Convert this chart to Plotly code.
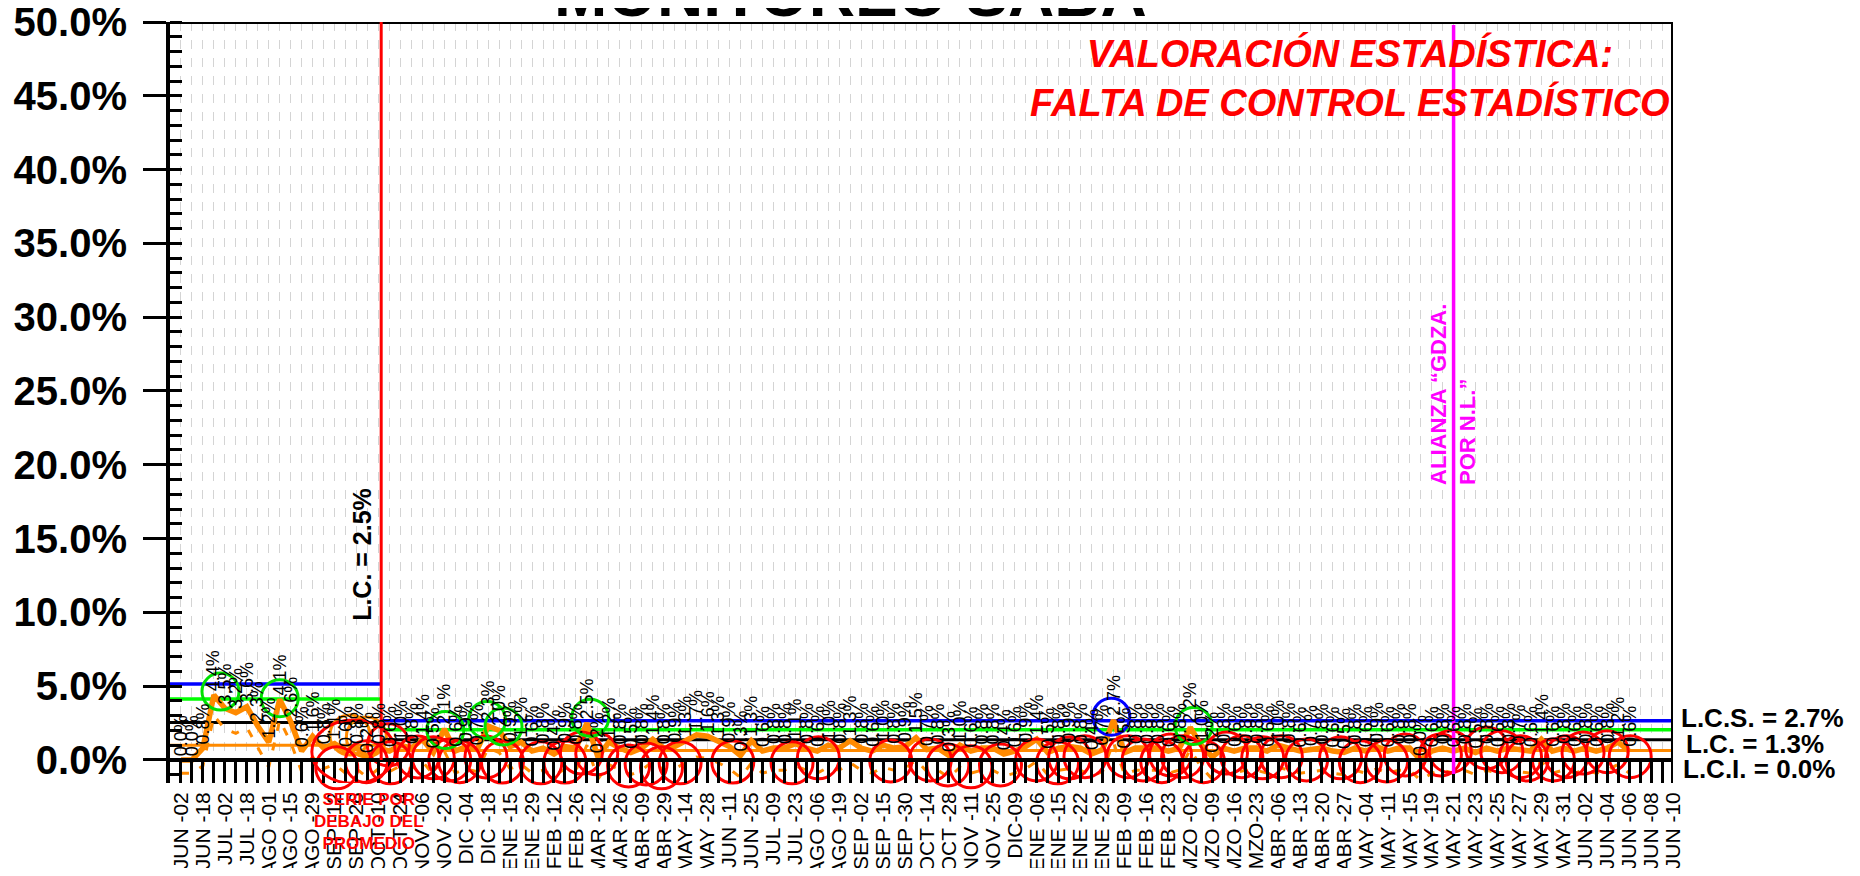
import plotly.graph_objects as go

# ---------------- DATA ----------------
cat_labels = ["JUN -02", "JUN -18", "JUL -02", "JUL -18", "AGO -01", "AGO -15", "AGO -29",
              "SEP -12", "SEP -26", "OCT -10", "OCT -24", "NOV -06", "NOV -20", "DIC -04",
              "DIC -18", "ENE -15", "ENE -29", "FEB -12", "FEB -26", "MAR -12", "MAR -26",
              "ABR -09", "ABR -29", "MAY -14", "MAY -28", "JUN -11", "JUN -25", "JUL -09",
              "JUL -23", "AGO -06", "AGO -19", "SEP -02", "SEP -15", "SEP -30", "OCT -14",
              "OCT -28", "NOV -11", "NOV -25", "DIC-09", "ENE -06", "ENE -15", "ENE -22",
              "ENE -29", "FEB -09", "FEB -16", "FEB -23", "MZO -02", "MZO -09", "MZO -16",
              "MZO-23", "ABR -06", "ABR -13", "ABR -20", "ABR -27", "MAY -04", "MAY -11",
              "MAY -15", "MAY -19", "MAY -21", "MAY -23", "MAY -25", "MAY -27", "MAY -29",
              "MAY -31", "JUN -02", "JUN -04", "JUN -06", "JUN -08", "JUN -10"]

n_positions = 138  # category slots on the axis (labels every second slot)

main_values = [0.0, 0.0, 0.8, 4.4, 3.5, 3.2, 3.6, 2.3, 1.2, 4.1,
               2.6, 0.6, 1.6, 0.8, 1.1, 0.6, 0.8, 0.2, 0.8, 0.6,
               1.0, 0.8, 1.4, 0.5, 2.1, 0.6, 0.9, 0.7, 2.3, 2.0,
               0.9, 1.2, 0.6, 0.8, 0.4, 0.9, 0.8, 2.5, 0.2, 1.2,
               0.8, 0.5, 0.8, 1.4, 0.8, 0.9, 1.3, 1.7, 1.6, 1.3,
               0.9, 0.3, 1.3, 0.6, 0.8, 0.8, 1.1, 0.8, 0.6, 1.0,
               0.8, 1.3, 0.8, 0.6, 1.0, 0.8, 0.9, 1.5, 0.7, 0.8,
               0.3, 1.0, 0.6, 0.8, 0.8, 0.4, 0.6, 0.9, 1.4, 0.5,
               0.8, 0.9, 0.8, 0.4, 0.7, 2.7, 0.5, 0.8, 0.8, 0.8,
               0.6, 0.8, 2.2, 1.0, 0.2, 0.8, 0.6, 0.8, 0.8, 0.6,
               1.0, 0.8, 0.6, 0.7, 0.8, 0.6, 0.5, 0.8, 0.6, 0.9,
               0.6, 0.8, 0.8, 0.0, 0.6, 0.8, 0.6, 0.8, 0.5, 0.8,
               0.6, 0.8, 0.7, 0.6, 1.4, 0.6, 0.8, 0.6, 0.8, 0.6,
               0.8, 1.2, 0.6]
main_start = 1

dash_values = [-0.9, -0.9, -0.4, 3.0, 2.1, 1.8, 2.2, 0.9, -0.5, 2.7,
               1.2, -0.8, 0.2, -0.6, -0.3, -0.9, -0.6, -1.2, -0.6, -0.8,
               -0.4, -0.6, -0.1, -1.0, 0.6, -0.9, -0.6, -0.8, 0.8, 0.5,
               -0.6, -0.3, -0.9, -0.7, -1.1, -0.6, -0.7, 1.0, -1.3, -0.3,
               -0.7, -1.0, -0.7, -0.1, -0.7, -0.6, -0.2, 0.2, 0.1, -0.2,
               -0.6, -1.2, -0.2, -0.9, -0.7, -0.7, -0.4, -0.7, -0.9, -0.5,
               -0.7, -0.2, -0.7, -0.9, -0.5, -0.7, -0.6, 0.0, -0.8, -0.7,
               -1.2, -0.5, -0.9, -0.7, -0.7, -1.1, -0.9, -0.6, -0.1, -1.0,
               -0.7, -0.6, -0.7, -1.1, -0.8, 1.2, -1.0, -0.7, -0.7, -0.7,
               -0.9, -0.7, 0.7, -0.5, -1.3, -0.7, -0.9, -0.7, -0.7, -0.9,
               -0.5, -0.7, -0.9, -0.8, -0.7, -0.9, -1.0, -0.7, -0.9, -0.6,
               -0.9, -0.7, -0.7, -1.4, -0.9, -0.7, -0.9, -0.7, -1.0, -0.7,
               -0.9, -0.7, -0.8, -0.9, -0.1, -0.9, -0.7, -0.9, -0.7, -0.9,
               -0.7, -0.3, -0.9]

# control limits: first period / second period
limits_p1 = {"lcs": 5.15, "sup1": 4.13, "lc": 2.54, "inf1": 1.0}
limits_p2 = {"lcs": 2.65, "sup1": 2.04, "lc": 1.36, "inf1": 0.63}
period_change = 19.25      # category position of the change of period (red line)
alianza_pos = 117.0        # category position of the magenta event line

# highlighted points (category position, value %)
red_circ_x = [15.2, 17.9, 19.9, 20.1, 22.6, 24.0, 25.5, 26.4, 28.8, 30.3, 33.8, 36.0, 37.5,
              38.9, 41.8, 43.4, 44.8, 46.5, 51.3, 56.7, 59.1, 65.7, 69.3, 70.9, 73.0, 75.7,
              79.0, 80.9, 82.0, 83.4, 87.3, 88.7, 90.4, 91.2, 92.3, 94.2, 96.3, 97.7, 99.6,
              101.3, 103.6, 106.7, 108.5, 110.9, 112.6, 115.8, 116.7, 120.0, 121.4, 123.1,
              123.7, 126.1, 127.3, 128.8, 131.0, 133.1]
red_circ_y = [-0.54, -0.12, 1.02, -0.2, 0.2, 0.14, 0.0, -0.12, 0.2, -0.14, -0.2, -0.14, 0.47,
              0.41, -0.41, -0.27, -0.54, -0.2, -0.14, -0.2, 0.14, -0.07, 0.0, -0.34, -0.47,
              -0.34, 0.0, -0.2, 0.14, 0.22, 0.22, 0.0, -0.12, 0.34, 0.22, -0.12, 0.47, 0.22,
              0.14, 0.22, 0.0, 0.14, -0.12, -0.07, 0.34, 0.34, 0.56, 0.81, 0.56, 0.22, 0.0,
              0.0, 0.22, 0.47, 0.56, 0.22]
red_oval = {"x": 16.73, "y": 0.56, "rx": 3.8, "ry": 2.15}
green_circ_x = [4.6, 10.0, 25.1, 28.9, 30.4, 38.3, 93.3]
green_circ_y = [4.63, 4.18, 2.03, 2.71, 2.26, 2.85, 2.3]
blue_circ_x = [85.8]
blue_circ_y = [2.93]
orange_circ_x = [16.4, 17.9]
orange_circ_y = [1.69, 1.56]

# ---------------- STYLE ----------------
# the page body adds an 8px offset; the figure is sized so it fits the 1860x876 window
W, H = 1852, 860
OFF = 8
ML, MR, MT, MB = 162, 187, 14, 85
Y_MIN, Y_MAX = -1.565, 50.0
ORANGE = "#FF8A00"
X_MAX = n_positions - 1
plot_w = W - ML - MR
plot_h = H - MT - MB


def px_x(sx):
    """screen x (window px) -> paper x"""
    return (sx - OFF - ML) / plot_w


def px_y(sy):
    """screen y (window px) -> paper y"""
    return 1 - (sy - OFF - MT) / plot_h


fig = go.Figure()

# reference lines
for x0, x1, lim in [(0, period_change, limits_p1), (period_change, X_MAX, limits_p2)]:
    for key, col, wd in [("inf1", ORANGE, 3), ("lc", "black", 3), ("sup1", "#00FF00", 3.5), ("lcs", "#0000FF", 3.5)]:
        fig.add_trace(go.Scatter(x=[x0, x1], y=[lim[key], lim[key]], mode="lines",
                                 line=dict(color=col, width=wd), hoverinfo="skip"))

xs = list(range(main_start, main_start + len(main_values)))
fig.add_trace(go.Scatter(x=xs, y=dash_values, mode="lines",
                         line=dict(color=ORANGE, width=3, dash="8px,12px"), hoverinfo="skip"))
fig.add_trace(go.Scatter(x=xs, y=main_values, mode="lines",
                         line=dict(color=ORANGE, width=5.5), hoverinfo="skip"))


def circles(cx, cy, color, size, width=3):
    fig.add_trace(go.Scatter(x=cx, y=cy, mode="markers", cliponaxis=False,
                             marker=dict(symbol="circle-open", size=size, color=color,
                                         line=dict(color=color, width=width)),
                             hoverinfo="skip"))


circles(orange_circ_x, orange_circ_y, ORANGE, 40)
circles(red_circ_x, red_circ_y, "#FF0000", 42)
circles(green_circ_x, green_circ_y, "#00E000", 37)
circles(blue_circ_x, blue_circ_y, "#0000FF", 37)

shapes = []
# red ellipse
shapes.append(dict(type="circle", xref="x", yref="y",
                   x0=red_oval["x"] - red_oval["rx"], x1=red_oval["x"] + red_oval["rx"],
                   y0=red_oval["y"] - red_oval["ry"], y1=red_oval["y"] + red_oval["ry"],
                   line=dict(color="#FF0000", width=3)))
# frame
shapes.append(dict(type="line", xref="x", yref="y", x0=0, x1=X_MAX, y0=Y_MAX, y1=Y_MAX,
                   line=dict(color="black", width=4)))
shapes.append(dict(type="line", xref="x", yref="y", x0=X_MAX, x1=X_MAX, y0=Y_MIN, y1=Y_MAX,
                   line=dict(color="black", width=4)))
shapes.append(dict(type="line", xref="x", yref="y", x0=0, x1=X_MAX, y0=0, y1=0,
                   line=dict(color="black", width=4)))
# event lines
shapes.append(dict(type="line", xref="x", yref="y", x0=period_change, x1=period_change, y0=0, y1=Y_MAX,
                   line=dict(color="#FF0000", width=3)))
shapes.append(dict(type="line", xref="x", yref="y", x0=alianza_pos, x1=alianza_pos, y0=-0.95, y1=Y_MAX - 0.2,
                   line=dict(color="#FF00FF", width=3.5)))
# outer right border of the chart area
shapes.append(dict(type="line", xref="paper", yref="paper",
                   x0=px_x(1854), x1=px_x(1854), y0=px_y(876), y1=px_y(0),
                   line=dict(color="black", width=3)))

annotations = []
# data labels
for x, v in zip(xs, main_values):
    annotations.append(dict(x=x, y=v, xref="x", yref="y", text=f"{v:.1f}%", showarrow=False,
                            textangle=-90, xanchor="center", yanchor="bottom", yshift=2,
                            font=dict(family="Arial", size=18, color="black")))

annotations.append(dict(xref="paper", yref="paper", x=px_x(850), y=px_y(-6),
                        text="MONITOREO SABA", showarrow=False, xanchor="center", yanchor="middle",
                        font=dict(family="Arial", size=64, color="black", weight="bold")))
annotations.append(dict(xref="paper", yref="paper", x=px_x(1350), y=px_y(78),
                        text="VALORACIÓN ESTADÍSTICA:<br>FALTA DE CONTROL ESTADÍSTICO",
                        showarrow=False, xanchor="center", yanchor="middle", align="center",
                        font=dict(family="Arial", size=38, color="#FF0000", weight="bold", style="italic")))
annotations.append(dict(xref="x", yref="y", x=17.55, y=13.93, text="L.C. = 2.5%", showarrow=False,
                        textangle=-90, xanchor="center", yanchor="middle",
                        font=dict(family="Arial", size=25, color="black", weight="bold")))
annotations.append(dict(xref="x", yref="y", x=alianza_pos, y=24.77, text="ALIANZA “GDZA.<br>POR N.L.”",
                        showarrow=False, textangle=-90, xanchor="center", yanchor="middle", align="left",
                        font=dict(family="Arial", size=22, color="#FF00FF", weight="bold")))
annotations.append(dict(xref="x", yref="paper", x=18.14, y=px_y(821),
                        text="SERIE POR<br>DEBAJO DEL<br>PROMEDIO", showarrow=False,
                        xanchor="center", yanchor="middle", align="center",
                        font=dict(family="Arial", size=17, color="#FF0000", weight="bold")))
for txt, sx, sy in [("L.C.S. = 2.7%", 1679, 718), ("L.C. = 1.3%", 1684, 744), ("L.C.I. = 0.0%", 1681, 769)]:
    annotations.append(dict(xref="paper", yref="paper", x=px_x(sx), y=px_y(sy), text=txt, showarrow=False,
                            xanchor="left", yanchor="middle",
                            font=dict(family="Arial", size=26, color="black", weight="bold")))

tickvals = list(range(n_positions))
ticktext = ["" if k % 2 == 0 else cat_labels[(k - 1) // 2] for k in tickvals]

fig.update_layout(
    width=W, height=H, margin=dict(l=ML, r=MR, t=MT, b=MB, autoexpand=False),
    paper_bgcolor="white", plot_bgcolor="white", showlegend=False,
    shapes=shapes, annotations=annotations,
    xaxis=dict(range=[0, X_MAX], tickmode="array", tickvals=tickvals, ticktext=ticktext,
               tickangle=-90, ticks="inside", ticklen=23, tickwidth=3, tickcolor="black",
               showgrid=True, gridcolor="#d4d4d4", griddash="dash", gridwidth=1,
               showline=False, zeroline=False, ticklabelstandoff=4, automargin=False,
               ticklabeloverflow="allow",
               tickfont=dict(family="Arial", size=21, color="black")),
    yaxis=dict(range=[Y_MIN, Y_MAX], tickmode="array", tickvals=list(range(0, 51, 5)),
               ticktext=[f"{v:.1f}%" for v in range(0, 51, 5)],
               ticks="outside", ticklen=23, tickwidth=3, tickcolor="black",
               showline=True, linewidth=4, linecolor="black", showgrid=False, zeroline=False,
               ticklabelstandoff=8, automargin=False, ticklabeloverflow="allow",
               minor=dict(dtick=1, tick0=0, ticks="inside", ticklen=12, tickwidth=3, tickcolor="black",
                          showgrid=False),
               tickfont=dict(family="Arial", size=40, color="black", weight="bold")),
)

fig.write_html("out.html")
